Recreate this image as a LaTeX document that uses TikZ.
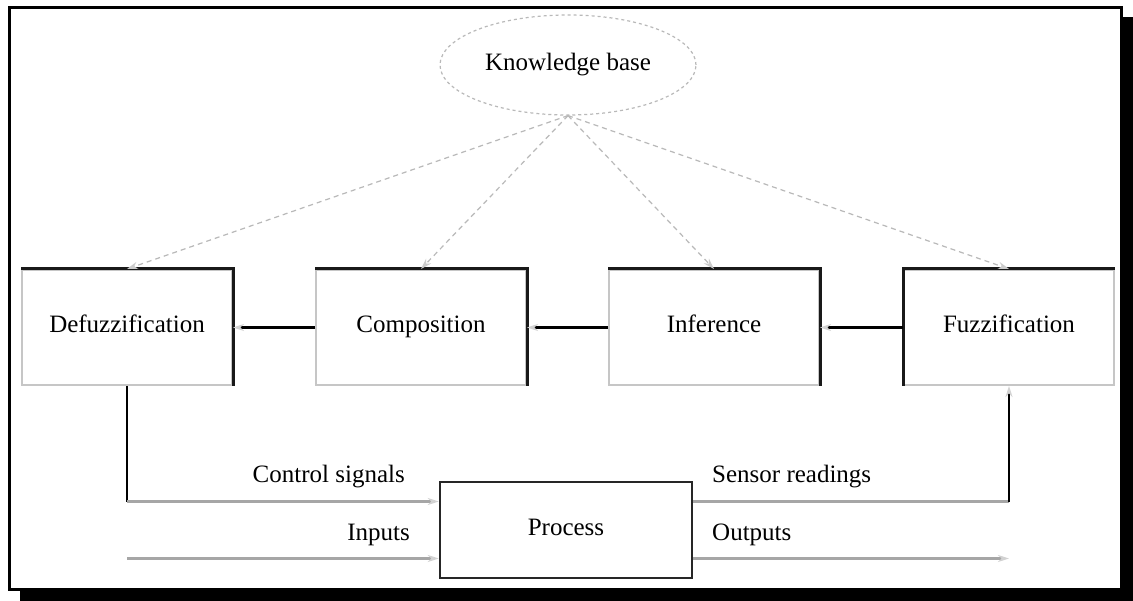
\documentclass[tikz,border=0pt]{standalone}
\usepackage{fontspec}
\setmainfont{Liberation Serif}
\usetikzlibrary{shapes.geometric,arrows.meta}
\tikzset{
    kbellipse/.style={ellipse, draw=gray!55, dashed, line width=1.2pt, minimum width=256pt, minimum height=100pt, inner sep=0pt, font=\fontsize{25}{29}\selectfont},
    stagebox/.style={draw=gray!45, line width=2pt, minimum width=210pt, minimum height=115pt, inner sep=0pt, text height=18pt, text depth=8pt, font=\fontsize{25}{29}\selectfont},
    procbox/.style={draw=black!85, line width=2.5pt, minimum width=252pt, minimum height=96pt, inner sep=0pt, text height=18pt, text depth=8pt, font=\fontsize{25}{29}\selectfont},
    lbl/.style={inner sep=0pt, font=\fontsize{25}{29}\selectfont},
    darkedge/.style={line width=3pt, black!90},
    blackline/.style={line width=2.5pt, black},
    grayline/.style={line width=2.5pt, gray!70},
    faintarrow/.style={-{Stealth[length=11pt,width=7pt,color=gray!35]}},
    kbarrow/.style={draw=gray!55, dash pattern=on 5pt off 4pt, line width=1.2pt, -{Stealth[length=11pt,width=7pt,color=gray!40]}}
}
\begin{document}
\begin{tikzpicture}[x=1pt,y=-1pt]
        \useasboundingbox (0,0) rectangle (1133,601);
        \fill [black] (20,17) rectangle (1133,601);
        \draw [line width=3pt,fill=white] (9.5,7.5) rectangle (1121.5,589);
        \node [kbellipse] (kb) at (568,65) {Knowledge base};
        \node [stagebox] (defuzz) at (127,327.5) {Defuzzification};
        \node [stagebox] (comp) at (421,327.5) {Composition};
        \node [stagebox] (infer) at (714,327.5) {Inference};
        \node [stagebox] (fuzz) at (1009,327.5) {Fuzzification};
        \node [procbox] (process) at (566,530) {Process};
        \draw [darkedge] (defuzz.north west) -- (defuzz.north east) -- (defuzz.south east);
        \draw [darkedge] (comp.north west) -- (comp.north east) -- (comp.south east);
        \draw [darkedge] (infer.north west) -- (infer.north east) -- (infer.south east);
        \draw [darkedge] (fuzz.south west) -- (fuzz.north west) -- (fuzz.north east);
        \draw [kbarrow] (kb.south) -- (defuzz.north);
        \draw [kbarrow] (kb.south) -- (comp.north);
        \draw [kbarrow] (kb.south) -- (infer.north);
        \draw [kbarrow] (kb.south) -- (fuzz.north);
        \draw [blackline,faintarrow] (comp.west) -- (defuzz.east);
        \draw [blackline,faintarrow] (infer.west) -- (comp.east);
        \draw [blackline,faintarrow] (fuzz.west) -- (infer.east);
        \coordinate (ctlport) at ([yshift=28.5pt]process.west);
        \coordinate (inport) at ([yshift=-28.5pt]process.west);
        \coordinate (senport) at ([yshift=28.5pt]process.east);
        \coordinate (outport) at ([yshift=-28.5pt]process.east);
        \draw [blackline] (defuzz.south) -- (defuzz.south |- ctlport) coordinate (ctlcorner);
        \draw [grayline,faintarrow] (ctlcorner) -- (ctlport);
        \draw [grayline,faintarrow] (ctlcorner |- inport) -- (inport);
        \draw [grayline] (senport) -- (fuzz.south |- senport) coordinate (sencorner);
        \draw [blackline,faintarrow] (sencorner) -- (fuzz.south);
        \draw [grayline,faintarrow] (outport) -- (sencorner |- outport);
        \node [lbl,anchor=east] (ctllbl) at (405,477) {Control signals};
        \node [lbl,anchor=east] (inlbl) at (410,535) {Inputs};
        \node [lbl,anchor=west] (senlbl) at (712,477) {Sensor readings};
        \node [lbl,anchor=west] (outlbl) at (712,535) {Outputs};
    \end{tikzpicture}
\end{document}
